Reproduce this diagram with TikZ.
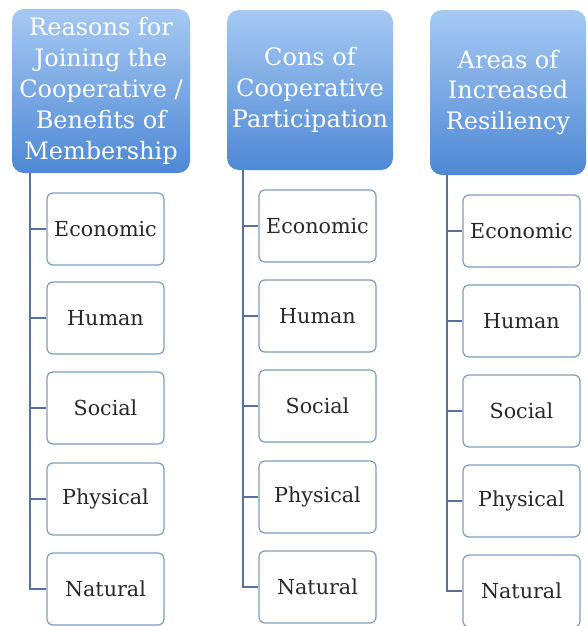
\documentclass[tikz,border=0pt]{standalone}
\usepackage{fontspec}
\setmainfont{DejaVu Serif}
\usepackage{tikz}
\tikzset{every picture/.style={line width=0.75pt}}

\definecolor{headtop}{RGB}{166,201,243}
\definecolor{headbot}{RGB}{78,136,212}
\definecolor{linkcol}{RGB}{86,114,154}
\definecolor{boxcol}{RGB}{128,156,192}
\definecolor{txtcol}{RGB}{40,40,40}

\tikzset{
  head/.style={rounded corners=9pt, top color=headtop, bottom color=headbot, draw=none,
    text=white, align=center, font=\fontsize{18}{23.2}\selectfont, inner sep=0pt},
  item/.style={rounded corners=4.5pt, draw=boxcol, line width=0.9pt, fill=white,
    minimum width=87.75pt, minimum height=54pt, text=txtcol, font=\fontsize{15.5}{18}\selectfont},
  link/.style={draw=linkcol, line width=1.1pt}
}

\begin{document}
\begin{tikzpicture}[x=0.75pt,y=0.75pt,yscale=-1,xscale=1]
\useasboundingbox (0,0) rectangle (587,626);

%Headers
\node [head, minimum width=133.5pt, minimum height=123pt] (h1) at (101,91) {Reasons for\\Joining the\\Cooperative /\\Benefits of\\Membership};
\node [head, minimum width=124.5pt, minimum height=120pt] (h2) at (310,90) {Cons of\\Cooperative\\Participation};
\node [head, minimum width=117pt, minimum height=123.75pt] (h3) at (508,92.5) {Areas of\\Increased\\Resiliency};

%Trunk start points
\coordinate (t1) at (30,173);
\coordinate (t2) at (243,170);
\coordinate (t3) at (447,175);

%Column 1
\node [item] (a1) at (105.5,229) {Economic};
\node [item] (a2) at (105.5,318) {Human};
\node [item] (a3) at (105.5,408) {Social};
\node [item] (a4) at (105.5,499) {Physical};
\node [item] (a5) at (105.5,589) {Natural};

%Column 2
\node [item] (b1) at (317.5,226) {Economic};
\node [item] (b2) at (317.5,316) {Human};
\node [item] (b3) at (317.5,406) {Social};
\node [item] (b4) at (317.5,497) {Physical};
\node [item] (b5) at (317.5,587) {Natural};

%Column 3
\node [item] (c1) at (521.5,231) {Economic};
\node [item] (c2) at (521.5,321) {Human};
\node [item] (c3) at (521.5,411) {Social};
\node [item] (c4) at (521.5,501) {Physical};
\node [item] (c5) at (521.5,591) {Natural};

%Connectors
\draw [link] (t1) |- (a1.west);
\draw [link] (t1) |- (a2.west);
\draw [link] (t1) |- (a3.west);
\draw [link] (t1) |- (a4.west);
\draw [link] (t1) |- (a5.west);

\draw [link] (t2) |- (b1.west);
\draw [link] (t2) |- (b2.west);
\draw [link] (t2) |- (b3.west);
\draw [link] (t2) |- (b4.west);
\draw [link] (t2) |- (b5.west);

\draw [link] (t3) |- (c1.west);
\draw [link] (t3) |- (c2.west);
\draw [link] (t3) |- (c3.west);
\draw [link] (t3) |- (c4.west);
\draw [link] (t3) |- (c5.west);

\end{tikzpicture}
\end{document}
